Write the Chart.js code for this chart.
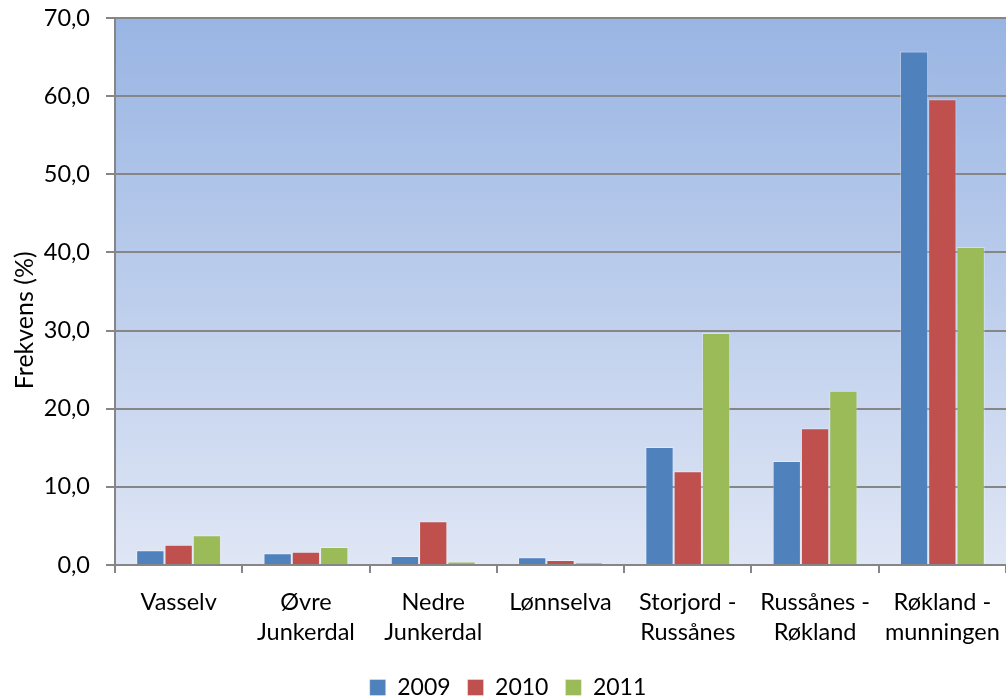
<!DOCTYPE html>
<html>
<head>
<meta charset="utf-8">
<script src="https://cdn.jsdelivr.net/npm/chart.js"></script>
<style>
  html, body { margin: 0; padding: 0; background: #fff; overflow: hidden; }
  #wrap { width: 1006px; height: 700px; }
</style>
</head>
<body>
<div id="wrap"><canvas id="chart" width="1006" height="700"></canvas></div>
<script>
// data
const categories = [
  'Vasselv',
  ['Øvre', 'Junkerdal'],
  ['Nedre', 'Junkerdal'],
  'Lønnselva',
  ['Storjord -', 'Russånes'],
  ['Russånes -', 'Røkland'],
  ['Røkland -', 'munningen']
];
const seriesNames = ['2009', '2010', '2011'];
const values2009 = [1.9, 1.5, 1.15, 1.0, 15.1, 13.3, 65.7];
const values2010 = [2.6, 1.7, 5.6, 0.65, 12.0, 17.5, 59.6];
const values2011 = [3.8, 2.3, 0.45, 0.3, 29.7, 22.3, 40.7];
const yTicks = [0, 10, 20, 30, 40, 50, 60, 70];

const colors = ['#4f81bd', '#c0504d', '#9bbb59'];
const fontFamily = 'Lato, "Open Sans", sans-serif';

// gradient background behind the plot area
const plotBackground = {
  id: 'plotBackground',
  beforeDraw(chart) {
    const { ctx, chartArea: a } = chart;
    const g = ctx.createLinearGradient(0, a.top, 0, a.bottom);
    g.addColorStop(0, '#99b5e3');
    g.addColorStop(1, '#dfe6f5');
    ctx.save();
    ctx.fillStyle = g;
    ctx.fillRect(a.left, a.top, a.right - a.left, a.bottom - a.top);
    ctx.restore();
  }
};

const allValues = [values2009, values2010, values2011];

new Chart(document.getElementById('chart'), {
  type: 'bar',
  data: {
    labels: categories,
    datasets: seriesNames.map((name, i) => ({
      label: name,
      data: allValues[i],
      backgroundColor: colors[i],
      borderColor: 'rgba(255,255,255,0.35)',
      borderWidth: 1,
      categoryPercentage: 0.667,
      barPercentage: 1.0
    }))
  },
  options: {
    responsive: false,
    animation: false,
    layout: { padding: { top: 0, right: 0, left: 10, bottom: 0 } },
    plugins: {
      tooltip: { enabled: false },
      legend: {
        position: 'bottom',
        maxHeight: 41,
        labels: {
          color: '#000',
          boxWidth: 16,
          boxHeight: 16,
          padding: 17,
          font: { family: fontFamily, size: 23, lineHeight: 1.0 }
        }
      }
    },
    scales: {
      x: {
        offset: true,
        afterFit(scale) {
          scale.height = 94;
          scale.paddingLeft = 0;
          scale.paddingRight = 0;
        },
        grid: {
          offset: true,
          drawOnChartArea: false,
          drawTicks: true,
          tickLength: 8,
          color: '#868686',
          lineWidth: 2
        },
        border: { color: '#868686', width: 2 },
        ticks: {
          color: '#000',
          padding: 14,
          maxRotation: 0,
          autoSkip: false,
          font: { family: fontFamily, size: 23.5, lineHeight: 1.28 }
        }
      },
      y: {
        min: 0,
        max: 70,
        afterBuildTicks(scale) {
          scale.ticks = yTicks.map(v => ({ value: v }));
        },
        afterFit(scale) {
          scale.width = 105;
          scale.paddingTop = 18;
          scale.paddingBottom = 0;
        },
        grid: {
          color: '#868686',
          lineWidth: 2,
          tickLength: 9
        },
        border: { color: '#868686', width: 2 },
        ticks: {
          color: '#000',
          padding: 16,
          font: { family: fontFamily, size: 23.5 },
          callback: v => v.toFixed(1).replace('.', ',')
        },
        title: {
          display: true,
          text: 'Frekvens (%)\u00a0\u00a0\u00a0\u00a0\u00a0\u00a0\u00a0\u00a0\u00a0',
          color: '#000',
          padding: 0,
          font: { family: fontFamily, size: 25, lineHeight: 1.2 }
        }
      }
    }
  },
  plugins: [plotBackground]
});
</script>
</body>
</html>
